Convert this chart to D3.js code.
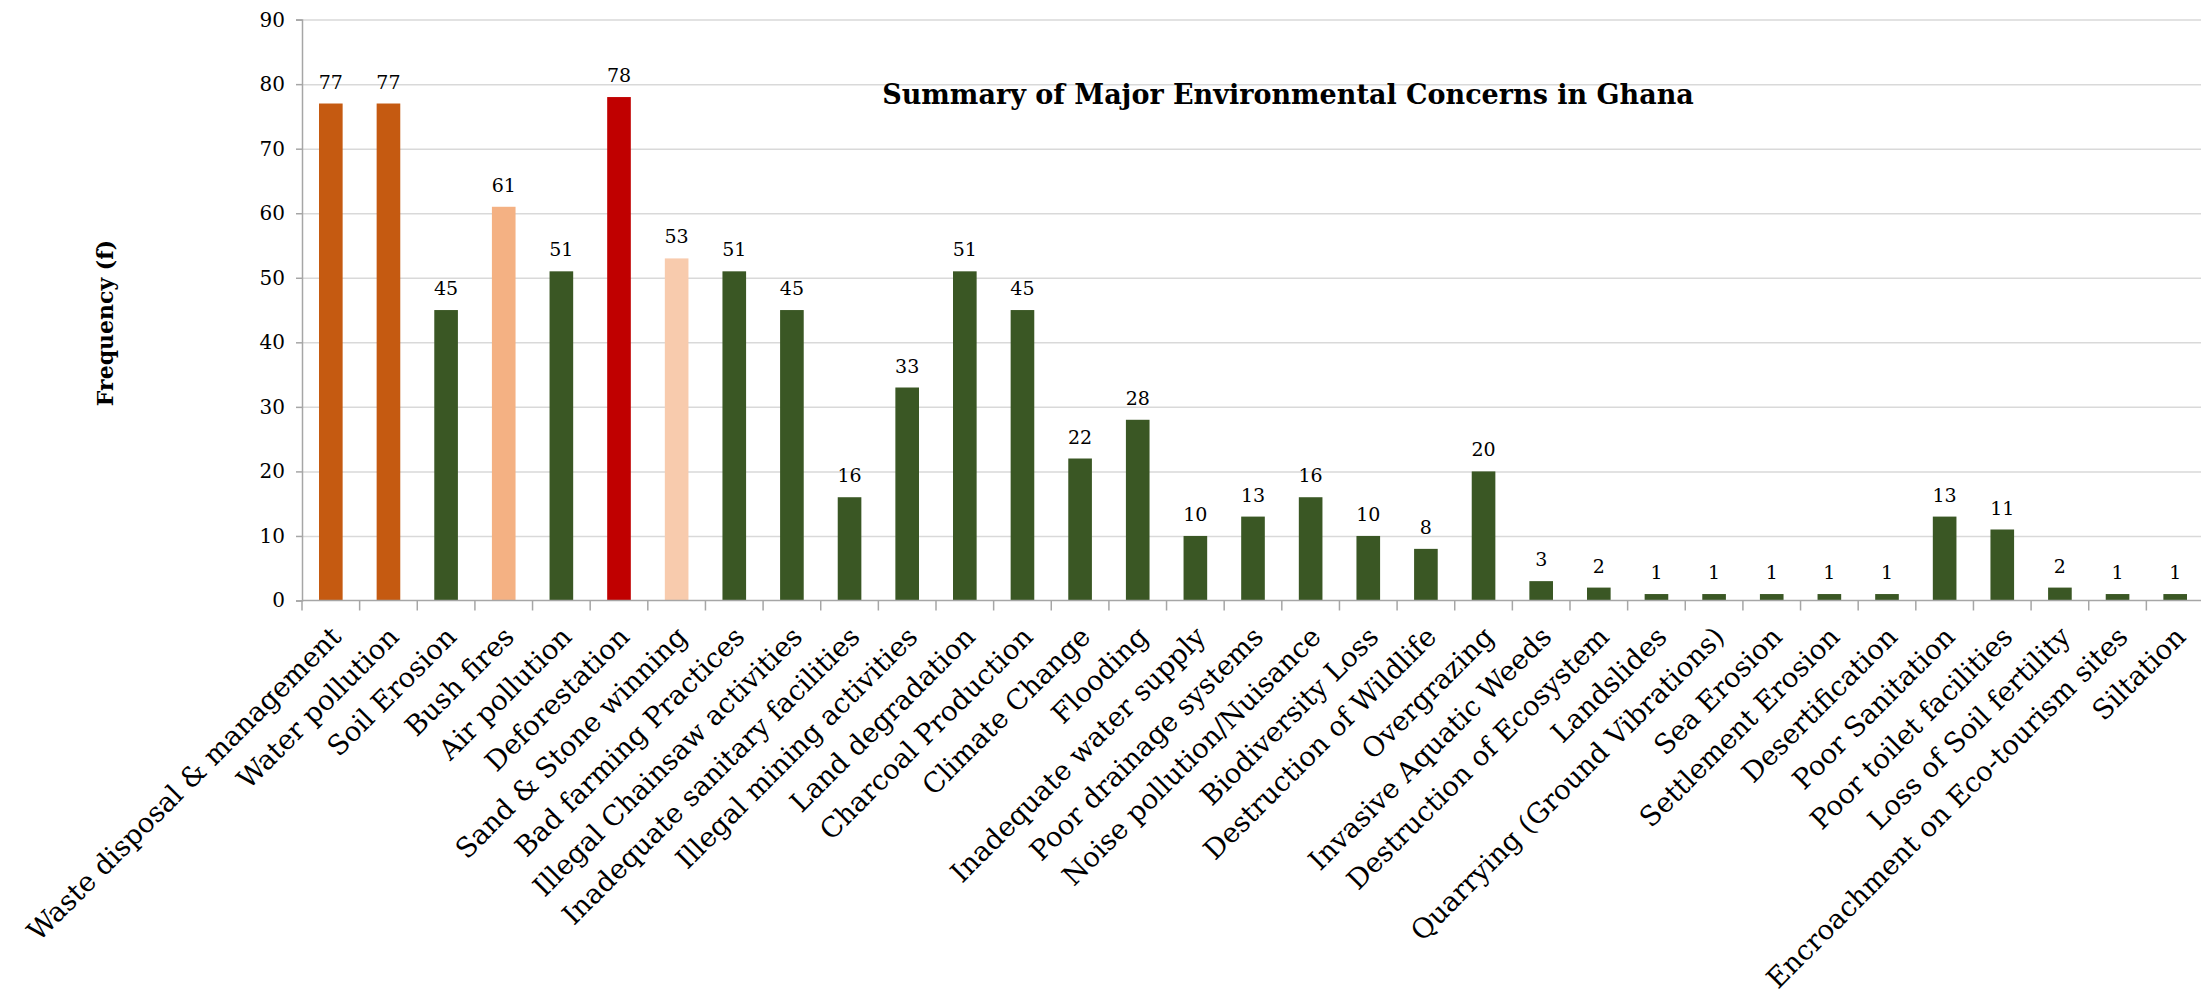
<!DOCTYPE html>
<html>
<head>
<meta charset="utf-8">
<script src="https://cdn.jsdelivr.net/npm/d3@7"></script>
<style>
  body { margin: 0; background: #fff; }
  svg text { font-family: "DejaVu Serif", "Liberation Serif", serif; fill: #000; }
  .grid line { stroke: #d9d9d9; stroke-width: 1.5; }
  .grid .domain { display: none; }
</style>
</head>
<body>
<svg id="chart" width="2201" height="1001"></svg>
<script>
const categories = [
  "Waste disposal & management", "Water pollution", "Soil Erosion", "Bush fires",
  "Air pollution", "Deforestation", "Sand & Stone winning", "Bad farming Practices",
  "Illegal Chainsaw activities", "Inadequate sanitary facilities", "Illegal mining activities",
  "Land degradation", "Charcoal Production", "Climate Change", "Flooding",
  "Inadequate water supply", "Poor drainage systems", "Noise pollution/Nuisance",
  "Biodiversity Loss", "Destruction of Wildlife", "Overgrazing", "Invasive Aquatic Weeds",
  "Destruction of Ecosystem", "Landslides", "Quarrying (Ground Vibrations)", "Sea Erosion",
  "Settlement Erosion", "Desertification", "Poor Sanitation", "Poor toilet facilities",
  "Loss of Soil fertility", "Encroachment on Eco-tourism sites", "Siltation"
];
const frequency = [77, 77, 45, 61, 51, 78, 53, 51, 45, 16, 33, 51, 45, 22, 28, 10, 13, 16, 10, 8, 20, 3, 2, 1, 1, 1, 1, 1, 13, 11, 2, 1, 1];
const yTicks = [0, 10, 20, 30, 40, 50, 60, 70, 80, 90];

// bar colours that differ from the default green
const highlight = {
  "Waste disposal & management": "#c55a11",
  "Water pollution": "#c55a11",
  "Bush fires": "#f4b183",
  "Deforestation": "#c00000",
  "Sand & Stone winning": "#f8cbad"
};
const baseColor = "#3a5724";

const data = categories.map((c, i) => ({ category: c, value: frequency[i] }));

const svg = d3.select("#chart");
const plotLeft = 302, plotRight = 2204, plotTop = 19.6, plotBottom = 600.5;

const x = d3.scaleBand().domain(categories).range([plotLeft, plotRight]).paddingInner(0.59).paddingOuter(0.295);
const y = d3.scaleLinear().domain([0, 90]).range([plotBottom, plotTop]);

// gridlines
svg.append("g")
  .attr("class", "grid")
  .attr("transform", "translate(" + plotLeft + ",0)")
  .call(d3.axisRight(y).tickValues(yTicks.slice(1)).tickSize(plotRight - plotLeft).tickFormat(""));

// bars
svg.selectAll(".bar")
  .data(data)
  .enter().append("rect")
  .attr("class", "bar")
  .attr("x", d => x(d.category))
  .attr("y", d => y(d.value))
  .attr("width", x.bandwidth())
  .attr("height", d => plotBottom - y(d.value))
  .attr("fill", d => highlight[d.category] || baseColor);

// value labels
svg.selectAll(".val")
  .data(data)
  .enter().append("text")
  .attr("class", "val")
  .attr("x", d => x(d.category) + x.bandwidth() / 2)
  .attr("y", d => y(d.value) - 15)
  .attr("text-anchor", "middle")
  .attr("font-size", "19px")
  .text(d => d.value);

// y axis
const yAxis = svg.append("g")
  .attr("transform", "translate(" + plotLeft + ",0)")
  .call(d3.axisLeft(y).tickValues(yTicks).tickSize(6).tickPadding(11));
yAxis.select(".domain").attr("stroke", "#a6a6a6").attr("stroke-width", 1.5);
yAxis.selectAll(".tick line").attr("stroke", "#a6a6a6").attr("stroke-width", 1.5);
yAxis.selectAll(".tick text")
  .attr("font-family", "DejaVu Serif, serif")
  .attr("font-size", "20px");

// x axis: tick marks at band boundaries
const step = x.step();
const bounds = d3.range(categories.length + 1).map(i => plotLeft + i * step);
svg.append("line")
  .attr("x1", plotLeft).attr("x2", plotRight)
  .attr("y1", plotBottom).attr("y2", plotBottom)
  .attr("stroke", "#a6a6a6").attr("stroke-width", 1.5);
svg.selectAll(".xtick")
  .data(bounds)
  .enter().append("line")
  .attr("x1", d => d).attr("x2", d => d)
  .attr("y1", plotBottom).attr("y2", plotBottom + 10)
  .attr("stroke", "#a6a6a6").attr("stroke-width", 1.5);

svg.selectAll(".xlab")
  .data(categories)
  .enter().append("text")
  .attr("class", "xlab")
  .attr("text-anchor", "end")
  .attr("font-size", "27.5px")
  .attr("transform", d => "translate(" + (x(d) + x.bandwidth() / 2 + 12) + "," + (plotBottom + 38) + ") rotate(-45)")
  .text(d => d);

// title
svg.append("text")
  .attr("x", 1288)
  .attr("y", 104)
  .attr("text-anchor", "middle")
  .attr("font-size", "27px")
  .attr("font-weight", "bold")
  .text("Summary of Major Environmental Concerns in Ghana");

// y axis title
svg.append("text")
  .attr("transform", "translate(113,323) rotate(-90)")
  .attr("text-anchor", "middle")
  .attr("font-size", "22px")
  .attr("font-weight", "bold")
  .text("Frequency (f)");
</script>
</body>
</html>
